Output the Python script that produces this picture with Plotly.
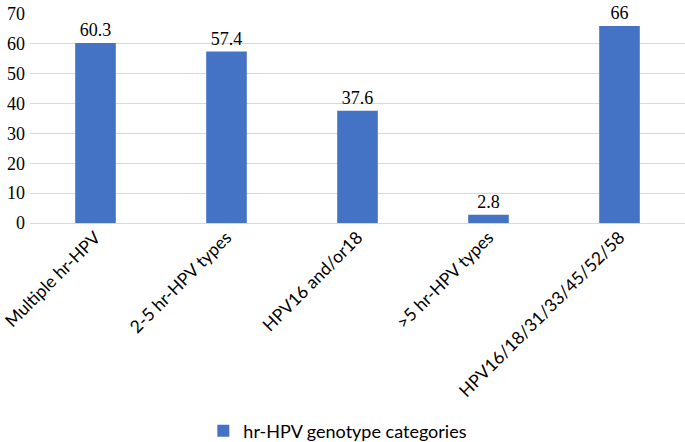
import plotly.graph_objects as go

categories = ["Multiple hr-HPV", "2-5 hr-HPV types", "HPV16 and/or18", ">5 hr-HPV types", "HPV16/18/31/33/45/52/58"]
values = [60.3, 57.4, 37.6, 2.8, 66]
value_labels = ["60.3", "57.4", "37.6", "2.8", "66"]
series_name = "hr-HPV genotype categories"
y_ticks = [0, 10, 20, 30, 40, 50, 60, 70]

fig = go.Figure()
fig.add_trace(go.Bar(
    x=categories, y=values, name=series_name,
    marker=dict(color="#4472C4", line=dict(width=0)),
    text=value_labels, textposition="outside", cliponaxis=False,
    textfont=dict(family="Liberation Serif", size=18, color="#000000"),
))
fig.update_layout(
    width=685, height=442,
    margin=dict(l=30, r=0, t=14, b=219, autoexpand=False),
    paper_bgcolor="white", plot_bgcolor="white",
    bargap=0.69,
    showlegend=True,
    legend=dict(orientation="h", x=0.47, xanchor="center", y=-0.995, yanchor="middle",
                font=dict(family="Lato", size=18, color="#000000")),
    xaxis=dict(tickangle=-45, tickfont=dict(family="Lato", size=17.5, color="#000000"),
               showgrid=False, showline=False, ticks="", automargin=False),
    yaxis=dict(range=[0, 70], tickvals=y_ticks, showgrid=True, gridcolor="#D9D9D9", gridwidth=1,
               zeroline=True, zerolinecolor="#D9D9D9", zerolinewidth=1, automargin=False,
               tickfont=dict(family="Liberation Serif", size=18, color="#000000"), ticks="",
               ticklabelstandoff=4),
)
fig.write_html("out.html", config={"displayModeBar": False},
               post_script="document.body.style.margin='0';document.body.style.overflow='hidden';")
